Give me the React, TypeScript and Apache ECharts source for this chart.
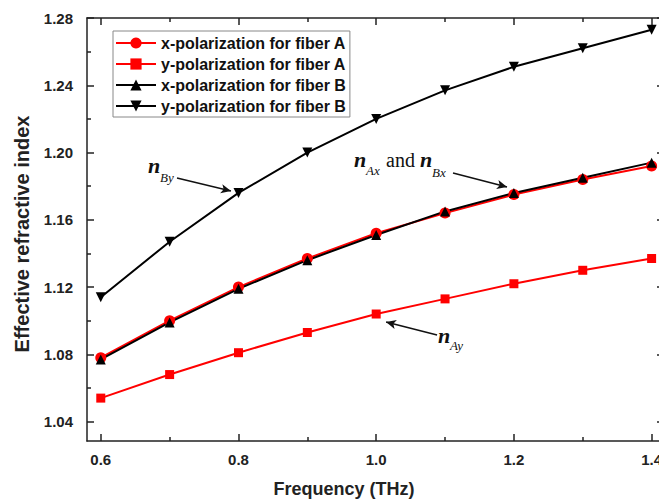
import React, { useEffect, useRef } from "react";
import * as echarts from "echarts";

const frequency = [0.6, 0.7, 0.8, 0.9, 1.0, 1.1, 1.2, 1.3, 1.4];
const xPolA = [1.078, 1.1, 1.12, 1.137, 1.152, 1.164, 1.175, 1.184, 1.192];
const yPolA = [1.054, 1.068, 1.081, 1.093, 1.104, 1.113, 1.122, 1.13, 1.137];
const xPolB = [1.077, 1.099, 1.119, 1.136, 1.151, 1.165, 1.176, 1.185, 1.194];
const yPolB = [1.114, 1.147, 1.176, 1.2, 1.22, 1.237, 1.251, 1.262, 1.273];

const xMajorTicks = [0.6, 0.8, 1.0, 1.2, 1.4];
const xMinorTicks = [0.7, 0.9, 1.1, 1.3];
const yMajorTicks = [1.04, 1.08, 1.12, 1.16, 1.2, 1.24, 1.28];
const yMinorTicks = [1.06, 1.1, 1.14, 1.18, 1.22, 1.26];

const X_MIN = 0.58;
const X_MAX = 1.418;
const Y_MIN = 1.0285;
const Y_MAX = 1.28;

const names = [
  "x-polarization for fiber A",
  "y-polarization for fiber A",
  "x-polarization for fiber B",
  "y-polarization for fiber B",
];

const AXIS_COLOR = "#222";
const SANS = "'Liberation Sans', Arial, sans-serif";
const SERIF = "'Liberation Serif', 'Times New Roman', serif";

function pairs(ys: number[]) {
  return frequency.map((f, i) => [f, ys[i]]);
}

function xAxisDef(position: "top" | "bottom", ticks: number[], len: number, labels: boolean, line: boolean) {
  return {
    type: "value",
    min: X_MIN,
    max: X_MAX,
    position,
    axisLine: { show: line, onZero: false, lineStyle: { color: AXIS_COLOR, width: 1.5 } },
    axisTick: { show: true, inside: true, length: len, customValues: ticks, lineStyle: { color: AXIS_COLOR, width: 1.5 } },
    axisLabel: {
      show: labels,
      customValues: ticks,
      formatter: (v: number) => v.toFixed(1),
      margin: 11,
      fontSize: 15,
      fontWeight: "bold",
      fontFamily: SANS,
      color: AXIS_COLOR,
    },
    splitLine: { show: false },
  };
}

function yAxisDef(position: "left" | "right", ticks: number[], len: number, labels: boolean, line: boolean) {
  return {
    type: "value",
    min: Y_MIN,
    max: Y_MAX,
    position,
    axisLine: { show: line, onZero: false, lineStyle: { color: AXIS_COLOR, width: 1.5 } },
    axisTick: { show: true, inside: true, length: len, customValues: ticks, lineStyle: { color: AXIS_COLOR, width: 1.5 } },
    axisLabel: {
      show: labels,
      customValues: ticks,
      formatter: (v: number) => v.toFixed(2),
      margin: 14,
      fontSize: 15,
      fontWeight: "bold",
      fontFamily: SANS,
      color: AXIS_COLOR,
    },
    splitLine: { show: false },
  };
}

function annText(text: string, x: number, y: number, size: number, weight: string, style: string) {
  return {
    type: "text",
    x,
    y,
    silent: true,
    style: {
      text,
      fontFamily: SERIF,
      fontSize: size,
      fontWeight: weight,
      fontStyle: style,
      fill: "#111",
      align: "left",
      verticalAlign: "middle",
    },
  };
}

export default function App() {
  const ref = useRef<HTMLDivElement>(null);
  useEffect(() => {
    if (!ref.current) return;
    const chart = echarts.init(ref.current, null, { renderer: "svg" });
    const arrowLine = (a: number[], b: number[]) => [{ coord: a }, { coord: b }];
    chart.setOption({
      animation: false,
      backgroundColor: "#fff",
      grid: { left: 87, top: 18, right: 16, bottom: 62, containLabel: false },
      xAxis: [
        xAxisDef("bottom", xMajorTicks, 7, true, true),
        xAxisDef("bottom", xMinorTicks, 4, false, false),
        xAxisDef("top", xMajorTicks, 7, false, true),
        xAxisDef("top", xMinorTicks, 4, false, false),
      ],
      yAxis: [
        yAxisDef("left", yMajorTicks, 7, true, true),
        yAxisDef("left", yMinorTicks, 4, false, false),
        yAxisDef("right", yMajorTicks, 7, false, true),
        yAxisDef("right", yMinorTicks, 4, false, false),
      ],
      legend: {
        orient: "vertical",
        left: 113,
        top: 31,
        padding: [4, 4, 3, 2],
        itemWidth: 40,
        itemHeight: 14,
        itemGap: 5,
        borderColor: "#888",
        borderWidth: 1,
        backgroundColor: "#fff",
        data: names,
        textStyle: { fontSize: 16, fontWeight: "bold", fontFamily: SANS, color: "#111" },
      },
      graphic: [
        {
          type: "text",
          x: 22,
          y: 234,
          rotation: Math.PI / 2,
          style: {
            text: "Effective refractive index",
            fontFamily: SANS,
            fontSize: 20,
            fontWeight: "bold",
            fill: "#222",
            align: "center",
            verticalAlign: "middle",
          },
        },
        {
          type: "text",
          x: 344,
          y: 489,
          style: {
            text: "Frequency (THz)",
            fontFamily: SANS,
            fontSize: 18,
            fontWeight: "bold",
            fill: "#222",
            align: "center",
            verticalAlign: "middle",
          },
        },
        annText("n", 148, 165.6, 22, "bold", "italic"),
        annText("By", 160, 177.6, 13, "normal", "italic"),
        annText("n", 354, 159.6, 22, "bold", "italic"),
        annText("Ax", 366, 170.6, 13, "normal", "italic"),
        annText("and", 386, 160.3, 20, "normal", "normal"),
        annText("n", 420, 159.6, 22, "bold", "italic"),
        annText("Bx", 432, 172.6, 13, "normal", "italic"),
        annText("n", 438, 335.6, 22, "bold", "italic"),
        annText("Ay", 450, 345.6, 13, "normal", "italic"),
      ],
      series: [
        {
          name: names[0],
          type: "line",
          data: pairs(xPolA),
          symbol: "circle",
          symbolSize: 11,
          itemStyle: { color: "#ff0000" },
          lineStyle: { color: "#ff0000", width: 2 },
        },
        {
          name: names[1],
          type: "line",
          data: pairs(yPolA),
          symbol: "rect",
          symbolSize: 9,
          itemStyle: { color: "#ff0000" },
          lineStyle: { color: "#ff0000", width: 2 },
        },
        {
          name: names[2],
          type: "line",
          data: pairs(xPolB),
          symbol: "triangle",
          symbolSize: 10,
          itemStyle: { color: "#000" },
          lineStyle: { color: "#000", width: 2 },
        },
        {
          name: names[3],
          type: "line",
          data: pairs(yPolB),
          symbol: "triangle",
          symbolRotate: 180,
          symbolSize: 10,
          itemStyle: { color: "#000" },
          lineStyle: { color: "#000", width: 2 },
          markLine: {
            silent: true,
            symbol: ["none", "arrow"],
            symbolSize: [7, 10],
            label: { show: false },
            lineStyle: { color: "#111", width: 1.5, type: "solid" },
            emphasis: { disabled: true },
            data: [
              arrowLine([0.7107, 1.1849], [0.7891, 1.1771]),
              arrowLine([1.1116, 1.1878], [1.19, 1.1795]),
              arrowLine([1.0884, 1.0915], [1.0143, 1.0993]),
            ],
          },
        },
      ],
    });
    return () => chart.dispose();
  }, []);
  return (
    <div style={{ position: "fixed", left: 0, top: 0, width: 659, height: 503, overflow: "hidden", background: "#fff" }}>
      <div ref={ref} style={{ width: 680, height: 503 }} />
    </div>
  );
}
